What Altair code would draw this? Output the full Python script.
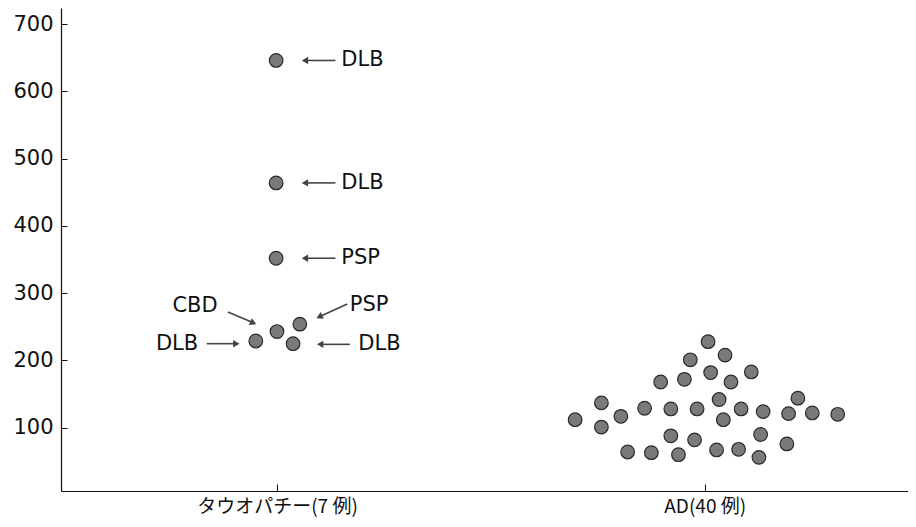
import altair as alt
import pandas as pd

# --- data -----------------------------------------------------------------
# x: horizontal position on the strip (arbitrary units), y: measured value
tau_x = [2.54, 2.54, 2.54, 2.30, 2.55, 2.82, 2.74]
tau_y = [646, 464, 352, 229, 243, 254, 225]

ad_x = [7.64, 7.84, 7.43, 7.67, 8.15, 7.36, 7.08, 7.91, 6.38, 8.70, 7.77,
        6.89, 7.20, 7.51, 8.03, 8.29, 8.59, 8.87, 9.17, 6.61, 6.07, 7.82,
        6.38, 7.20, 8.26, 7.48, 8.57, 6.69, 6.97, 7.29, 7.74, 8.00, 8.24]
ad_y = [228, 208, 201, 182, 183, 172, 168, 168, 137, 144, 142,
        129, 128, 128, 128, 124, 121, 122, 120, 117, 112, 112,
        101, 88, 90, 82, 76, 64, 63, 60, 67, 68, 56]

group_pos = [2.55, 7.60]
group_labels = ["タウオパチー(7 例)", "AD(40 例)"]

y_ticks = [100, 200, 300, 400, 500, 600, 700]

ann_text = ["DLB", "DLB", "PSP", "CBD", "PSP", "DLB", "DLB"]
ann_x = [3.31, 3.31, 3.31, 1.85, 3.41, 1.62, 3.51]
ann_y = [646, 464, 352, 281, 283, 225, 224]
ann_align = ["left", "left", "left", "right", "left", "right", "left"]

arr_x = [3.24, 3.24, 3.24, 1.97, 3.38, 1.72, 3.41]
arr_y = [646, 464, 352, 272, 284, 225, 224]
arr_x2 = [2.88, 2.88, 2.88, 2.27, 3.05, 2.07, 3.06]
arr_y2 = [646, 464, 352, 256, 265, 225, 224]
arr_angle = [180, 180, 180, 24, 155, 0, 180]

# --- tables ---------------------------------------------------------------
pts = pd.DataFrame({"x": tau_x + ad_x, "y": tau_y + ad_y})
ann = pd.DataFrame({"t": ann_text, "x": ann_x, "y": ann_y, "align": ann_align})
arr = pd.DataFrame({"x": arr_x, "y": arr_y, "x2": arr_x2, "y2": arr_y2, "a": arr_angle})

label_expr = " : ".join(
    f"abs(datum.value - {p}) < 0.01 ? '{l}'" for p, l in zip(group_pos, group_labels)
) + " : ''"

xs = alt.Scale(domain=[0, 10], nice=False, zero=False)
ys = alt.Scale(domain=[6, 724], nice=False, zero=False)

xaxis = alt.Axis(values=group_pos, labelExpr=label_expr, title=None, grid=False,
                 tickSize=alt.ExprRef("-7"), tickColor="#111", labelPadding=13,
                 labelFont="Noto Sans CJK JP", labelFontSize=19, labelColor="#111",
                 labelBaseline="top", domainColor="#111", domainWidth=1.2)
yaxis = alt.Axis(values=y_ticks, title=None, grid=False,
                 tickSize=alt.ExprRef("-6"), tickColor="#111", labelPadding=14,
                 labelFont="DejaVu Sans", labelFontSize=21, labelColor="#111",
                 domainColor="#111", domainWidth=1.2)

points = alt.Chart(pts).mark_point(
    shape="circle", filled=True, size=185, fill="#7a7a7a", stroke="#2a2a2a",
    strokeWidth=1.2, opacity=1
).encode(
    x=alt.X("x:Q", scale=xs, axis=xaxis),
    y=alt.Y("y:Q", scale=ys, axis=yaxis),
)

lines = alt.Chart(arr).mark_rule(color="#444", strokeWidth=1.6).encode(
    x=alt.X("x:Q", scale=xs), y=alt.Y("y:Q", scale=ys),
    x2="x2:Q", y2="y2:Q",
)

heads = alt.Chart(arr).mark_point(
    shape="triangle-right", filled=True, size=55, color="#444", opacity=1
).encode(
    x=alt.X("x2:Q", scale=xs), y=alt.Y("y2:Q", scale=ys),
    angle=alt.Angle("a:Q", scale=None),
)

texts_l = alt.Chart(ann).transform_filter("datum.align == 'left'").mark_text(
    align="left", baseline="middle", font="DejaVu Sans", fontSize=21, color="#111"
).encode(x=alt.X("x:Q", scale=xs), y=alt.Y("y:Q", scale=ys), text="t:N")

texts_r = alt.Chart(ann).transform_filter("datum.align == 'right'").mark_text(
    align="right", baseline="middle", font="DejaVu Sans", fontSize=21, color="#111"
).encode(x=alt.X("x:Q", scale=xs), y=alt.Y("y:Q", scale=ys), text="t:N")

chart = alt.layer(points, lines, heads, texts_l, texts_r).properties(
    width=847, height=483,
    autosize=alt.AutoSizeParams(type="none"),
    padding={"left": 53, "top": 0, "right": 0, "bottom": 28},
    background="white",
).configure_view(stroke="transparent")

chart.save("out.html", embed_options={"renderer": "svg", "actions": False})
